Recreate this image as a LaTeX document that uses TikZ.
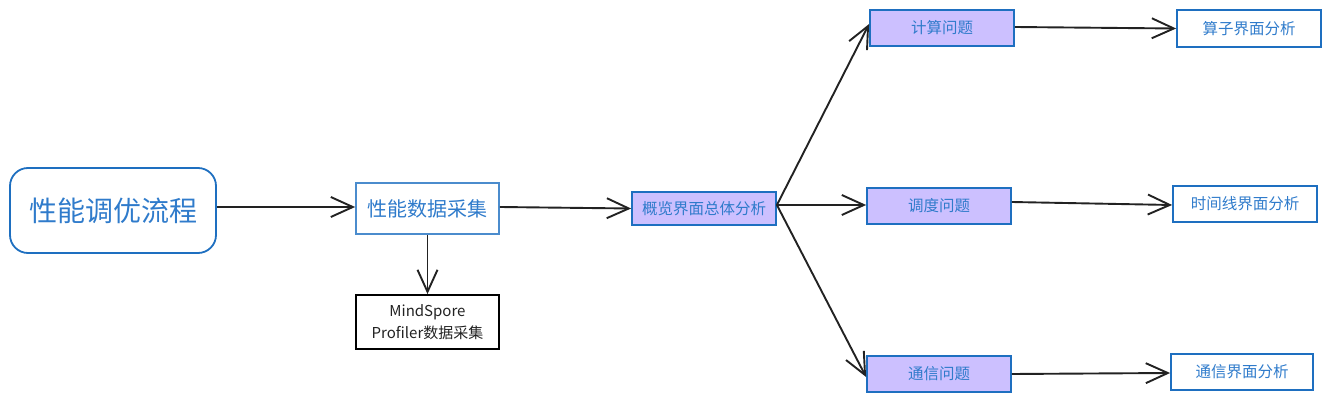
\documentclass[tikz,border=0pt]{standalone}
\usepackage{fontspec}
\setmainfont{Noto Sans CJK SC}
\usetikzlibrary{arrows.meta}
\definecolor{bblue}{HTML}{1E6FC0}
\definecolor{tblue}{HTML}{2F7BCB}
\definecolor{lav}{HTML}{CCC0FF}
\definecolor{dk}{HTML}{222222}
\tikzset{
  box/.style={draw=bblue, line width=1.8pt, text=tblue, inner sep=0pt, align=center, font=\fontsize{15.5pt}{19pt}\selectfont},
  lbox/.style={box, fill=lav},
  conn/.style={draw=dk, line width=1.9pt, -{Straight Barb[length=22pt,width=20pt,line width=1.9pt]}},
}
\begin{document}
\begin{tikzpicture}[x=1pt,y=-1pt]
\useasboundingbox (0,0) rectangle (1331,403);
\node[box, rounded corners=18pt, minimum width=206pt, minimum height=85pt, font=\fontsize{28pt}{32pt}\selectfont] (main) at (113,210.5) {性能调优流程};
\node[box, draw=bblue!80, minimum width=143pt, minimum height=51pt, font=\fontsize{20pt}{24pt}\selectfont] (collect) at (427.5,208.5) {性能数据采集};
\node[box, draw=black, text=dk, minimum width=143pt, minimum height=54pt, font=\fontsize{15pt}{22pt}\selectfont] (ms) at (427.5,322) {MindSpore\\Profiler数据采集};
\node[lbox, minimum width=144pt, minimum height=33pt] (over) at (704,208.5) {概览界面总体分析};
\node[lbox, minimum width=144pt, minimum height=36pt] (calc) at (942,28) {计算问题};
\node[lbox, minimum width=144pt, minimum height=36pt] (sched) at (939,206) {调度问题};
\node[lbox, minimum width=144pt, minimum height=36pt] (comm) at (939,374) {通信问题};
\node[box, minimum width=144pt, minimum height=37pt] (op) at (1249,28.5) {算子界面分析};
\node[box, minimum width=144pt, minimum height=36pt] (tl) at (1245,204) {时间线界面分析};
\node[box, minimum width=142pt, minimum height=36pt] (cma) at (1242,372) {通信界面分析};
\draw[conn] (main.east |- 0,207) -- (collect.west |- 0,207);
\draw[conn] (collect.east |- 0,207) -- (over.west);
\draw[conn] (collect.south) -- (ms.north);
\draw[conn] (over.east |- 0,205) -- (calc.west |- 0,24);
\draw[conn] (over.east |- 0,205) -- (sched.west |- 0,205);
\draw[conn] (over.east |- 0,205) -- (comm.west |- 0,377);
\draw[conn] (calc.east |- 0,27) -- (op.west);
\draw[conn] (sched.east |- 0,202) -- (tl.west |- 0,205);
\draw[conn] (comm.east) -- (cma.west |- 0,373);
\end{tikzpicture}
\end{document}
